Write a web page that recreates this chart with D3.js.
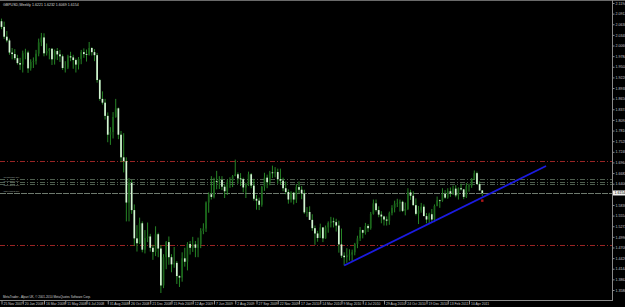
<!DOCTYPE html>
<html>
<head>
<meta charset="utf-8">
<script src="https://cdn.jsdelivr.net/npm/d3@7"></script>
<style>
  html, body { margin: 0; background: #000; overflow: hidden; }
  text { font-family: "Liberation Sans", Arial, sans-serif; }
</style>
</head>
<body>
<div id="viz"></div>
<script>
// GBPUSD weekly, 25 Nov 2007 .. 15 May 2011
const title = "GBPUSD,Weekly  1.6221 1.6232 1.6069 1.6154"
const footer = "MetaTrader - Alpari UK, \u00a9 2001-2010 MetaQuotes Software Corp."

const dateLabels = ["25 Nov 2007", "20 Jan 2008", "16 Mar 2008", "11 May 2008", "6 Jul 2008",
  "31 Aug 2008", "26 Oct 2008", "21 Dec 2008", "15 Feb 2009", "12 Apr 2009", "7 Jun 2009",
  "2 Aug 2009", "27 Sep 2009", "22 Nov 2009", "17 Jan 2010", "14 Mar 2010", "9 May 2010",
  "4 Jul 2010", "29 Aug 2010", "24 Oct 2010", "19 Dec 2010", "13 Feb 2011", "10 Apr 2011"]

const firstOpen = 2.0710

const highs = [
  2.0780, 2.0700, 2.0450, 2.0250, 2.0000, 1.9970, 1.9820, 1.9740, 1.9930, 1.9980,
  1.9930, 1.9700, 1.9750, 1.9950, 2.0250, 2.0400, 2.0390, 2.0120, 2.0000, 2.0000,
  1.9960, 2.0000, 1.9950, 1.9830, 1.9650, 1.9820, 1.9900, 1.9820, 1.9720, 1.9760,
  1.9950, 1.9990, 1.9960, 2.0160, 2.0020, 1.9970, 1.9870, 1.9180, 1.8850, 1.8650,
  1.8290, 1.7900, 1.8300, 1.8650, 1.8420, 1.7800, 1.7740, 1.7100, 1.6550, 1.6500,
  1.5850, 1.5300, 1.5500, 1.5400, 1.5170, 1.5370, 1.5070, 1.4780, 1.5270, 1.5100,
  1.4770, 1.4530, 1.4880, 1.5000, 1.4530, 1.4720, 1.4350, 1.3970, 1.4580, 1.4700,
  1.4850, 1.4880, 1.4990, 1.4880, 1.4970, 1.5220, 1.5350, 1.5930, 1.6170, 1.6600,
  1.6560, 1.6740, 1.6600, 1.6600, 1.6380, 1.6510, 1.6570, 1.6630, 1.7040, 1.6700,
  1.6680, 1.6560, 1.6420, 1.6720, 1.6680, 1.6530, 1.6100, 1.6030, 1.6340, 1.6690,
  1.6640, 1.6740, 1.6880, 1.6840, 1.6800, 1.6800, 1.6560, 1.6460, 1.6250, 1.6200,
  1.6180, 1.6390, 1.6460, 1.6340, 1.6240, 1.5780, 1.5800, 1.5590, 1.5290, 1.5150,
  1.5340, 1.5250, 1.5290, 1.5400, 1.5520, 1.5500, 1.5470, 1.5420, 1.5210, 1.4580,
  1.4690, 1.4660, 1.4650, 1.4830, 1.5020, 1.5250, 1.5180, 1.5360, 1.5330, 1.5650,
  1.5980, 1.5980, 1.5800, 1.5670, 1.5550, 1.5530, 1.5660, 1.5830, 1.5950, 1.6000,
  1.5980, 1.5950, 1.5900, 1.6280, 1.6240, 1.6200, 1.6010, 1.5810, 1.5890, 1.5850,
  1.5620, 1.5630, 1.5730, 1.5850, 1.6060, 1.5980, 1.6280, 1.6230, 1.6280, 1.6300,
  1.6350, 1.6360, 1.6300, 1.6400, 1.6250, 1.6420, 1.6400, 1.6550, 1.6750, 1.6720,
  1.6460, 1.6232]

const lows = [
  2.0500, 2.0240, 2.0150, 1.9820, 1.9700, 1.9680, 1.9560, 1.9420, 1.9350, 1.9700,
  1.9340, 1.9400, 1.9470, 1.9560, 1.9780, 2.0050, 1.9780, 1.9800, 1.9700, 1.9550,
  1.9560, 1.9680, 1.9630, 1.9420, 1.9350, 1.9440, 1.9650, 1.9450, 1.9350, 1.9430,
  1.9570, 1.9740, 1.9640, 1.9800, 1.9800, 1.9650, 1.9080, 1.8600, 1.8500, 1.8100,
  1.7500, 1.7430, 1.7600, 1.8150, 1.7580, 1.6970, 1.6700, 1.5400, 1.5400, 1.5600,
  1.4750, 1.4600, 1.4800, 1.4580, 1.4550, 1.4850, 1.4600, 1.4380, 1.4480, 1.4450,
  1.3500, 1.3630, 1.4130, 1.4250, 1.4050, 1.4170, 1.3740, 1.3660, 1.3800, 1.4200,
  1.4100, 1.4520, 1.4590, 1.4450, 1.4450, 1.4690, 1.5060, 1.5120, 1.5630, 1.5980,
  1.6010, 1.6250, 1.6260, 1.6230, 1.6020, 1.6100, 1.6290, 1.6310, 1.6600, 1.6400,
  1.6340, 1.6170, 1.6020, 1.6340, 1.6280, 1.5950, 1.5710, 1.5700, 1.5790, 1.6210,
  1.6280, 1.6360, 1.6550, 1.6570, 1.6400, 1.6380, 1.6200, 1.6120, 1.5870, 1.5900,
  1.5850, 1.5890, 1.6140, 1.5990, 1.5600, 1.5520, 1.5440, 1.5150, 1.4780, 1.4860,
  1.4960, 1.4850, 1.4940, 1.5100, 1.5240, 1.5240, 1.5130, 1.4570, 1.4430, 1.4230,
  1.4300, 1.4360, 1.4350, 1.4500, 1.4690, 1.4880, 1.4950, 1.5050, 1.5120, 1.5180,
  1.5580, 1.5660, 1.5510, 1.5350, 1.5290, 1.5290, 1.5310, 1.5560, 1.5640, 1.5780,
  1.5660, 1.5650, 1.5560, 1.5700, 1.5970, 1.5820, 1.5560, 1.5330, 1.5630, 1.5540,
  1.5350, 1.5330, 1.5360, 1.5380, 1.5800, 1.5760, 1.5920, 1.6000, 1.6000, 1.6050,
  1.6100, 1.6040, 1.5980, 1.6220, 1.5990, 1.6020, 1.6190, 1.6290, 1.6500, 1.6370,
  1.6220, 1.6069]

const closes = [
  2.0560, 2.0300, 2.0200, 1.9880, 1.9840, 1.9730, 1.9600, 1.9560, 1.9860, 1.9880,
  1.9460, 1.9630, 1.9650, 1.9850, 2.0150, 2.0280, 1.9860, 1.9920, 1.9980, 1.9700,
  1.9920, 1.9830, 1.9780, 1.9470, 1.9480, 1.9780, 1.9750, 1.9680, 1.9560, 1.9710,
  1.9890, 1.9840, 1.9820, 2.0000, 1.9890, 1.9810, 1.9150, 1.8650, 1.8550, 1.8200,
  1.7700, 1.7770, 1.8170, 1.8400, 1.7700, 1.7100, 1.7000, 1.5900, 1.6420, 1.5700,
  1.4950, 1.4820, 1.5350, 1.4650, 1.4960, 1.5000, 1.4700, 1.4590, 1.5060, 1.4680,
  1.3700, 1.4450, 1.4850, 1.4450, 1.4260, 1.4300, 1.3950, 1.3910, 1.4420, 1.4330,
  1.4800, 1.4700, 1.4790, 1.4700, 1.4790, 1.5150, 1.5210, 1.5900, 1.6120, 1.6050,
  1.6470, 1.6460, 1.6500, 1.6320, 1.6200, 1.6440, 1.6480, 1.6600, 1.6650, 1.6540,
  1.6520, 1.6300, 1.6380, 1.6650, 1.6350, 1.6000, 1.5950, 1.5840, 1.6320, 1.6560,
  1.6440, 1.6700, 1.6680, 1.6710, 1.6520, 1.6480, 1.6280, 1.6180, 1.5980, 1.6160,
  1.5980, 1.6310, 1.6240, 1.6140, 1.5640, 1.5650, 1.5440, 1.5220, 1.5080, 1.4960,
  1.5240, 1.4950, 1.5240, 1.5360, 1.5400, 1.5380, 1.5290, 1.4790, 1.4490, 1.4450,
  1.4500, 1.4520, 1.4580, 1.4800, 1.4950, 1.5170, 1.5100, 1.5280, 1.5220, 1.5600,
  1.5880, 1.5700, 1.5580, 1.5530, 1.5450, 1.5420, 1.5620, 1.5760, 1.5870, 1.5880,
  1.5920, 1.5680, 1.5730, 1.6170, 1.6080, 1.5830, 1.5600, 1.5690, 1.5790, 1.5540,
  1.5450, 1.5590, 1.5450, 1.5810, 1.5960, 1.5950, 1.6130, 1.6030, 1.6200, 1.6140,
  1.6270, 1.6090, 1.6280, 1.6250, 1.6050, 1.6330, 1.6350, 1.6520, 1.6680, 1.6390,
  1.6221, 1.6154]

const priceTicks = [2.1194, 2.0912, 2.0630, 2.0348, 2.0066, 1.9784, 1.9502, 1.9220, 1.8938,
  1.8656, 1.8374, 1.8092, 1.7810, 1.7528, 1.7246, 1.6964, 1.6682, 1.6400, 1.5836, 1.5554,
  1.5272, 1.4990, 1.4708, 1.4426, 1.4144, 1.3862, 1.3580]

const lastPrice = 1.6154
const redLevels = [1.7003, 1.4775]
const orderLevels = [1.6526, 1.6446, 1.6393, 1.6154]
const orderNames = ["#24836726 buy", "#24882539 buy", "#25042003 buy", "#25448813 buy"]
const trendPoints = [{ bar: 129, price: 1.4230 }, { bar: 205, price: 1.6870 }]
const closeMark = { bar: 181, price: 1.5950 }

const width = 625
const height = 307
const plotRight = 612
const plotBottom = 300

const svg = d3.select("#viz").append("svg")
  .attr("width", width)
  .attr("height", height)
  .style("display", "block")
  .style("background", "#000")

const x = d3.scaleLinear().domain([0, 176]).range([1.5, 469])
const y = d3.scaleLinear().domain([1.3580, 2.1194]).range([290, 3])

const bars = closes.map((c, i) => ({
  i: i,
  open: i === 0 ? firstOpen : closes[i - 1],
  high: highs[i],
  low: lows[i],
  close: c
}))

svg.append("clipPath").attr("id", "plot")
  .append("rect").attr("x", 0).attr("y", 0).attr("width", plotRight).attr("height", plotBottom)

const plot = svg.append("g").attr("clip-path", "url(#plot)")

// level lines
plot.selectAll("line.red").data(redLevels).enter().append("line")
  .attr("x1", 0).attr("x2", plotRight)
  .attr("y1", d => Math.round(y(d)) + 0.5).attr("y2", d => Math.round(y(d)) + 0.5)
  .attr("stroke", "#9a2424").attr("stroke-width", 1)
  .attr("stroke-dasharray", "5,2,1,2")

plot.selectAll("line.order").data(orderLevels).enter().append("line")
  .attr("x1", 0).attr("x2", plotRight)
  .attr("y1", d => Math.round(y(d)) + 0.5).attr("y2", d => Math.round(y(d)) + 0.5)
  .attr("stroke", (d, i) => i === 3 ? "#6e7a6e" : "#4e5e4e").attr("stroke-width", 1)
  .attr("stroke-dasharray", (d, i) => i === 3 ? "6,1" : "5,2,1,2")

// order labels: the three close ones are staggered so they do not collide
const orderLabelY = orderLevels.map(d => Math.round(y(d)))
plot.selectAll("text.order").data(orderLevels).enter().append("text")
  .attr("x", 3)
  .attr("y", (d, i) => i === 0 ? orderLabelY[i] - 0.8 : i === 3 ? orderLabelY[i] - 0.8 : orderLabelY[i] + (i === 1 ? 0.2 : 2.2))
  .attr("fill", "#9aa49a").attr("font-size", 2.4)
  .text((d, i) => orderNames[i])

// candles
const candles = plot.selectAll("g.bar").data(bars).enter().append("g")

candles.append("line")
  .attr("x1", d => x(d.i)).attr("x2", d => x(d.i))
  .attr("y1", d => y(d.high)).attr("y2", d => y(d.low))
  .attr("stroke", "#2a942a").attr("stroke-width", 0.9)

candles.append("rect")
  .attr("x", d => x(d.i) - 0.85)
  .attr("width", 1.7)
  .attr("y", d => y(Math.max(d.open, d.close)))
  .attr("height", d => Math.max(0.8, Math.abs(y(d.open) - y(d.close))))
  .attr("fill", d => d.close >= d.open ? "#1b661b" : "#d2f4d2")

// trend line
plot.append("line")
  .attr("x1", x(trendPoints[0].bar)).attr("y1", y(trendPoints[0].price))
  .attr("x2", x(trendPoints[1].bar)).attr("y2", y(trendPoints[1].price))
  .attr("stroke", "#1b1be0").attr("stroke-width", 1.8)

// closed order marker
plot.append("path")
  .attr("transform", `translate(${x(closeMark.bar)},${y(closeMark.price)})`)
  .attr("d", "M-1.2,-1.2L1.2,-1.2L1.2,1.2L-1.2,1.2Z")
  .attr("fill", "#b01818")

// frame
svg.append("line").attr("x1", 0).attr("x2", width).attr("y1", 0.5).attr("y2", 0.5)
  .attr("stroke", "#6a6a6a")
svg.append("line").attr("x1", plotRight + 0.5).attr("x2", plotRight + 0.5).attr("y1", 0).attr("y2", plotBottom + 1)
  .attr("stroke", "#8a8a8a")
svg.append("line").attr("x1", 0).attr("x2", plotRight + 1).attr("y1", plotBottom + 0.5).attr("y2", plotBottom + 0.5)
  .attr("stroke", "#8a8a8a")

// price axis
const yAxis = svg.append("g")
  .attr("transform", `translate(${plotRight + 0.5},0)`)
  .call(d3.axisRight(y).tickValues(priceTicks).tickFormat(d3.format(".4f")).tickSize(2).tickPadding(1))
yAxis.select(".domain").remove()
yAxis.selectAll("line").attr("stroke", "#8a8a8a")
yAxis.selectAll("text").attr("fill", "#c8c8c8").attr("font-size", 3.6)
  .attr("font-family", "Liberation Sans, Arial, sans-serif")

// current price box
svg.append("rect").attr("x", plotRight + 1).attr("y", y(lastPrice) - 2.5)
  .attr("width", width - plotRight).attr("height", 5).attr("fill", "#f0f0f0")
svg.append("text").attr("x", plotRight + 2.5).attr("y", y(lastPrice) + 1.3)
  .attr("fill", "#000").attr("font-size", 3.6)
  .text(d3.format(".4f")(lastPrice))

// time axis
const labelBars = dateLabels.map((d, k) => k * 8)
const xAxis = svg.append("g")
  .attr("transform", `translate(0,${plotBottom + 0.5})`)
  .call(d3.axisBottom(x).tickValues(labelBars).tickFormat((d, k) => dateLabels[k]).tickSize(4).tickPadding(0))
xAxis.select(".domain").remove()
xAxis.selectAll("line").attr("stroke", "#8a8a8a")
xAxis.selectAll("text").attr("fill", "#c8c8c8").attr("font-size", 3.4)
  .attr("text-anchor", "start").attr("dx", 1.5).attr("dy", 0).attr("y", 4.6)
  .attr("font-family", "Liberation Sans, Arial, sans-serif")

// title and footer
svg.append("text").attr("x", 3).attr("y", 5.5)
  .attr("fill", "#d8d8d8").attr("font-size", 3.6).text(title)
svg.append("text").attr("x", 3).attr("y", plotBottom - 2.5)
  .attr("fill", "#d0d0d0").attr("font-size", 3).text(footer)
</script>
</body>
</html>
